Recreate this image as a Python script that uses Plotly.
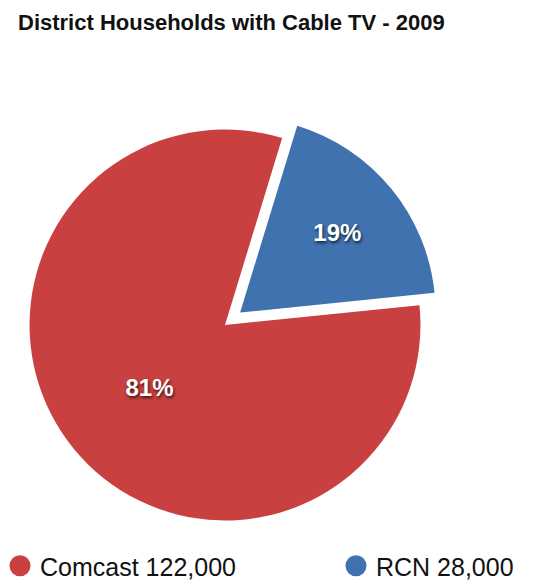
import plotly.graph_objects as go

providers = ["RCN", "Comcast"]
households = [28000, 122000]
colors = ["#4072B0", "#C8403F"]
legend_labels = ["Comcast 122,000", "RCN 28,000"]
legend_colors = ["#C8403F", "#4072B0"]
legend_ids = ["legend", "legend2"]

fig = go.Figure()
fig.add_trace(go.Pie(
    labels=providers, values=households,
    marker=dict(colors=colors, line=dict(width=0)),
    sort=False, direction="clockwise", rotation=17,
    pull=[0.1, 0],
    texttemplate="%{percent:.0%}", textposition="inside",
    textfont=dict(family="Liberation Sans, Arial", size=24, color="white",
                  weight="bold", shadow="1px 2px 3px rgba(0,0,0,0.7)"),
    insidetextorientation="horizontal",
    showlegend=False, hoverinfo="label+value+percent",
    domain=dict(x=[10/533, 440/533], y=[1-540/587, 1-110/587]),
))
for lab, col, lid in zip(legend_labels, legend_colors, legend_ids):
    fig.add_trace(go.Scatter(x=[None], y=[None], mode="markers", name=lab,
                             legend=lid,
                             marker=dict(size=16, color=col,
                                         line=dict(width=5, color=col))))

legend_font = dict(family="Liberation Sans, Arial", size=25, color="#111")
fig.update_layout(
    width=533, height=587,
    margin=dict(l=0, r=0, t=0, b=0, autoexpand=False),
    paper_bgcolor="white", plot_bgcolor="white",
    title=dict(text="<b>District Households with Cable TV - 2009</b>",
               x=18/533, xanchor="left", y=1-22/587, yanchor="middle",
               font=dict(family="Liberation Sans, Arial", size=22, color="#111")),
    xaxis=dict(visible=False), yaxis=dict(visible=False),
    legend=dict(orientation="h", x=0, xanchor="left", y=1-566/587,
                yanchor="middle", font=legend_font, itemclick=False,
                bgcolor="rgba(0,0,0,0)"),
    legend2=dict(orientation="h", x=336/533, xanchor="left", y=1-566/587,
                 yanchor="middle", font=legend_font, itemclick=False,
                 bgcolor="rgba(0,0,0,0)"),
)
fig.write_html("out.html")
